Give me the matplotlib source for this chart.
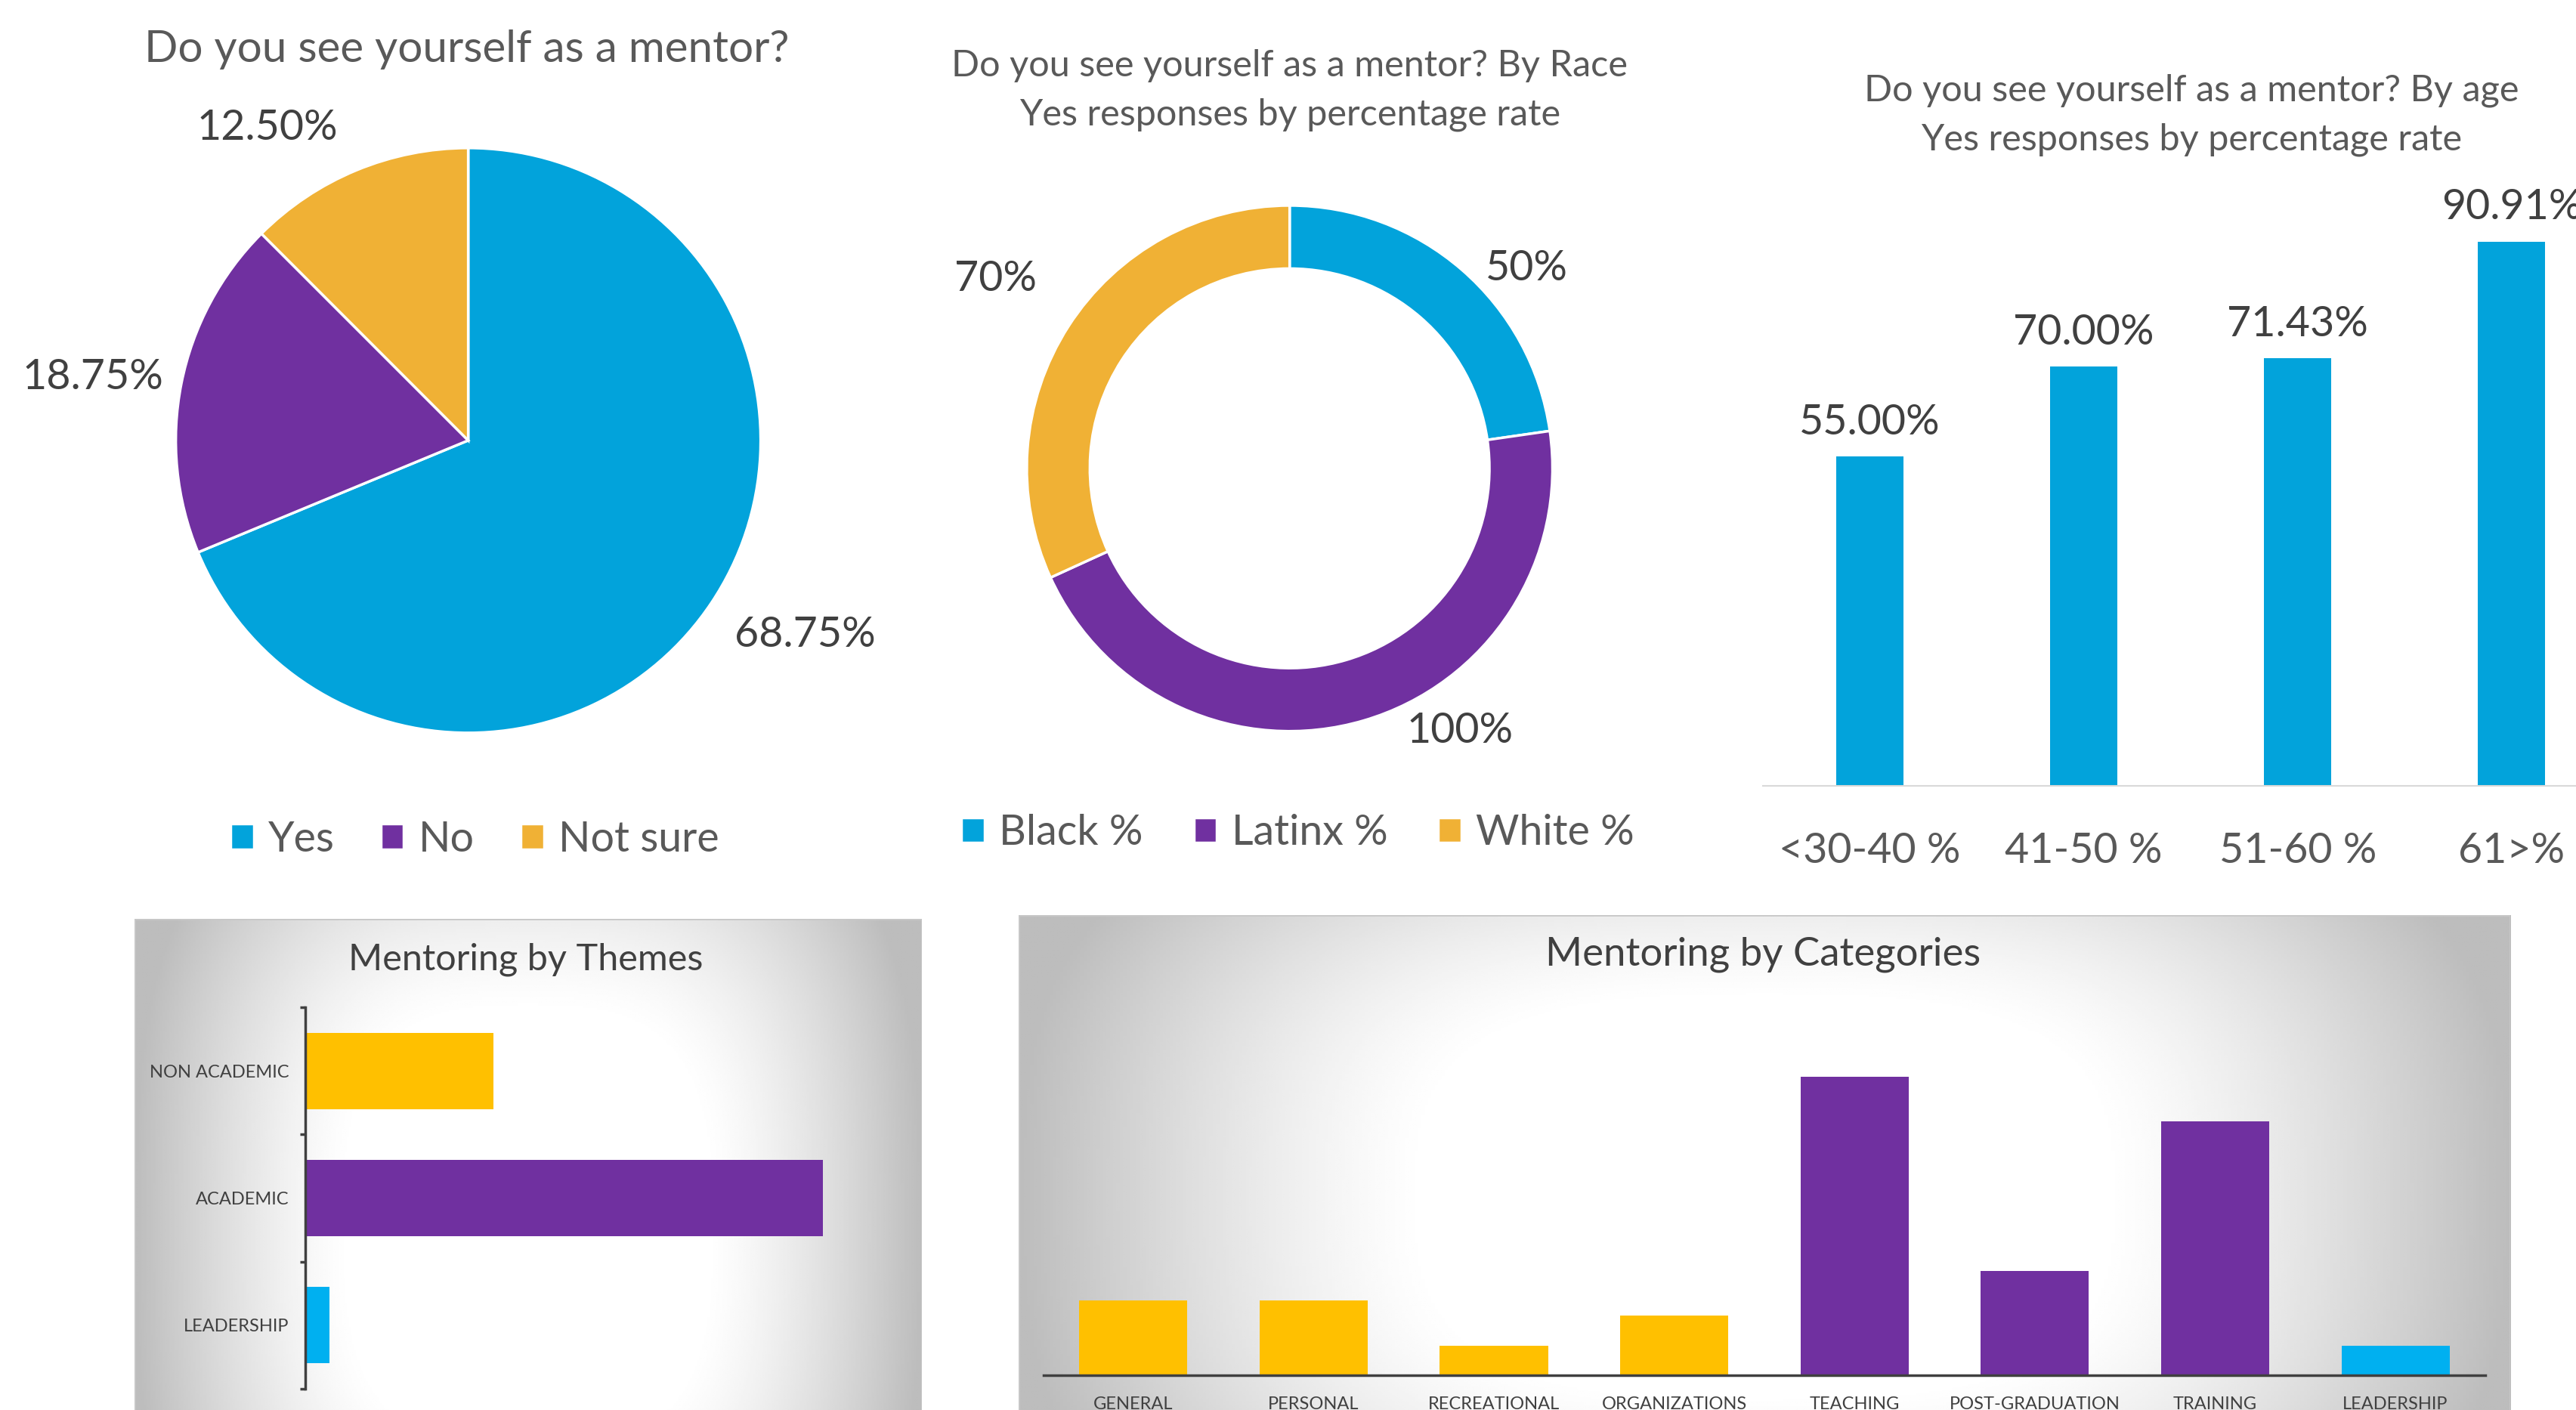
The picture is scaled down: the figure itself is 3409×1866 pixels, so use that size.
import numpy as np
import matplotlib
matplotlib.use("Agg")
import matplotlib.pyplot as plt

plt.rcParams["font.family"] = ["Lato", "DejaVu Sans"]

# ---- data
mentor_labels = ["Yes", "No", "Not sure"]
mentor_share = [68.75, 18.75, 12.50]

race_labels = ["Black %", "Latinx %", "White %"]
race_yes = [50, 100, 70]

age_groups = ["<30-40 %", "41-50 %", "51-60 %", "61>%"]
age_yes = [55.00, 70.00, 71.43, 90.91]

themes = ["LEADERSHIP", "ACADEMIC", "NON ACADEMIC"]
theme_counts = [1, 22, 8]

categories = ["GENERAL", "PERSONAL", "RECREATIONAL", "ORGANIZATIONS",
              "TEACHING", "POST-GRADUATION", "TRAINING", "LEADERSHIP"]
category_counts = [5, 5, 2, 4, 20, 7, 17, 2]
category_theme = ["NON ACADEMIC"] * 4 + ["ACADEMIC"] * 3 + ["LEADERSHIP"]

# ---- style
pie_colors = ["#02A3DB", "#7030A0", "#F0B135"]
theme_colors = {"LEADERSHIP": "#00B0F0", "ACADEMIC": "#7030A0", "NON ACADEMIC": "#FFC000"}
dark = "#404040"
grey = "#595959"

# layout helpers, in reference pixels (1568 x 858 view)
W, H = 1568, 858


def box(x0, y0, x1, y1):
    return [x0 / W, 1 - y1 / H, (x1 - x0) / W, (y1 - y0) / H]


def fpos(x, y):
    return (x / W, 1 - y / H)


def gradient_panel(x0, y0, x1, y1, vscale=0.65):
    ax = fig.add_axes(box(x0, y0, x1, y1))
    yy, xx = np.mgrid[-1:1:300j, -1:1:450j]
    d = (np.abs(xx) ** 3 + np.abs(yy * vscale) ** 3) ** (1 / 3)
    g = 1 - 0.26 * np.clip((d - 0.45) / 0.55, 0, 1) ** 1.3
    ax.imshow(g, cmap="gray", vmin=0, vmax=1, extent=[0, 1, 0, 1], aspect="auto")
    ax.set_xlim(0, 1)
    ax.set_ylim(0, 1)
    ax.axis("off")
    ax.add_patch(plt.Rectangle((0, 0), 1, 1, transform=ax.transAxes, fill=False,
                               edgecolor="#C8C8C8", linewidth=2))
    return ax


def wedge_labels(ax, wedges, texts, dists, nudges, size):
    for w, t, d, n in zip(wedges, texts, dists, nudges):
        a = np.deg2rad((w.theta1 + w.theta2) / 2 + n)
        ax.text(d * np.cos(a), d * np.sin(a), t, ha="center", va="center",
                fontsize=size, color=dark, clip_on=False)


fig = plt.figure(figsize=(34.09, 18.66), dpi=100)

# ---- pie: do you see yourself as a mentor?
ax = fig.add_axes(box(107, 90, 463, 446))
wedges, _ = ax.pie(mentor_share, colors=pie_colors, startangle=90, counterclock=False,
                   wedgeprops=dict(edgecolor="white", linewidth=2.5))
ax.set_xlim(-1, 1)
ax.set_ylim(-1, 1)
wedge_labels(ax, wedges, [f"{v:.2f}%" for v in mentor_share],
             [1.33, 1.30, 1.27], [3.75, 1.75, 10.2], 40)
fig.text(*fpos(284, 30), "Do you see yourself as a mentor?", ha="center", va="center",
         fontsize=42, color=grey)
fig.legend(wedges, mentor_labels, loc="center", bbox_to_anchor=fpos(289, 511), ncol=3,
           frameon=False, fontsize=40, handlelength=0.55, handleheight=0.55,
           handletextpad=0.35, columnspacing=1.1, labelcolor=grey)

# ---- donut: by race
ax = fig.add_axes(box(625, 125, 945, 445))
wedges, _ = ax.pie(race_yes, colors=pie_colors, startangle=90, counterclock=False,
                   wedgeprops=dict(width=0.24, edgecolor="white", linewidth=2.5))
ax.set_xlim(-1, 1)
ax.set_ylim(-1, 1)
wedge_labels(ax, wedges, [f"{v}%" for v in race_yes],
             [1.18, 1.19, 1.33], [-9, 16.6, 0], 40)
fig.text(*fpos(785, 40), "Do you see yourself as a mentor? By Race", ha="center",
         va="center", fontsize=35, color=grey)
fig.text(*fpos(785, 70), "Yes responses by percentage rate", ha="center",
         va="center", fontsize=35, color=grey)
fig.legend(wedges, race_labels, loc="center", bbox_to_anchor=fpos(790, 507), ncol=3,
           frameon=False, fontsize=40, handlelength=0.55, handleheight=0.55,
           handletextpad=0.35, columnspacing=1.2, labelcolor=grey)

# ---- bars: by age
ax = fig.add_axes(box(1073, 114, 1594, 478))
x = np.arange(len(age_groups))
bars = ax.bar(x, age_yes, width=0.314, color="#02A3DB")
for b, v in zip(bars, age_yes):
    ax.annotate(f"{v:.2f}%", (b.get_x() + b.get_width() / 2, v), xytext=(0, 14),
                textcoords="offset points", ha="center", va="bottom",
                fontsize=40, color=dark, annotation_clip=False)
ax.set_xlim(-0.5, 3.5)
ax.set_ylim(0, 100)
ax.set_xticks(x, age_groups)
ax.tick_params(axis="x", length=0, pad=44, labelsize=40, labelcolor=grey)
ax.set_yticks([])
for s in ["top", "left", "right"]:
    ax.spines[s].set_visible(False)
ax.spines["bottom"].set_color("#D9D9D9")
ax.spines["bottom"].set_linewidth(1.5)
ax.patch.set_alpha(0)
fig.text(*fpos(1334, 55), "Do you see yourself as a mentor? By age", ha="center",
         va="center", fontsize=35, color=grey)
fig.text(*fpos(1334, 85), "Yes responses by percentage rate", ha="center",
         va="center", fontsize=35, color=grey)

# ---- mentoring by themes
gradient_panel(82, 559, 561, 935)
ax = fig.add_axes(box(186, 613, 544, 845))
y = np.arange(len(themes))
ax.barh(y, theme_counts, height=0.6, color=[theme_colors[t] for t in themes])
ax.set_xlim(0, 25)
ax.set_ylim(-0.5, 2.5)
ax.set_yticks(y, themes)
ax.set_yticks(np.arange(-0.5, 3, 1), minor=True)
ax.tick_params(axis="y", which="major", length=0, pad=16, labelsize=17, labelcolor=dark)
ax.tick_params(axis="y", which="minor", length=5, width=2.5, color=dark, direction="out")
ax.set_xticks([])
for s in ["top", "bottom", "right"]:
    ax.spines[s].set_visible(False)
ax.spines["left"].set_color(dark)
ax.spines["left"].set_linewidth(2.5)
ax.patch.set_alpha(0)
fig.text(*fpos(320, 584), "Mentoring by Themes", ha="center", va="center",
         fontsize=35, color=dark)

# ---- mentoring by categories
gradient_panel(620, 557, 1528, 900)
ax = fig.add_axes(box(635, 637, 1513, 837))
x = np.arange(len(categories))
ax.bar(x, category_counts, width=0.6, color=[theme_colors[t] for t in category_theme])
ax.set_xlim(-0.5, len(categories) - 0.5)
ax.set_ylim(0, 22)
ax.set_xticks(x, categories)
ax.tick_params(axis="x", length=0, pad=20, labelsize=17, labelcolor=dark)
ax.set_yticks([])
for s in ["top", "left", "right"]:
    ax.spines[s].set_visible(False)
ax.spines["bottom"].set_color(dark)
ax.spines["bottom"].set_linewidth(2.5)
ax.patch.set_alpha(0)
fig.text(*fpos(1073, 581), "Mentoring by Categories", ha="center", va="center",
         fontsize=38, color=dark)

fig.savefig("out.png", dpi=100, facecolor="white")
